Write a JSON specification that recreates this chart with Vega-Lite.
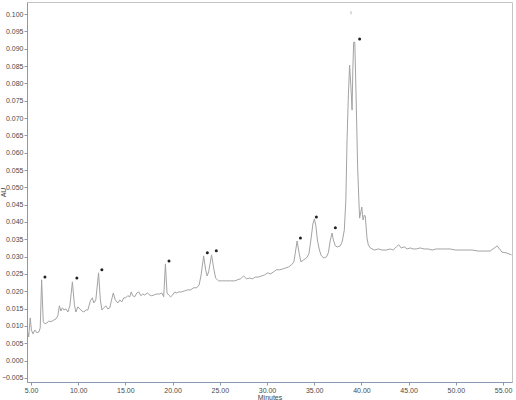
{
  "$schema": "https://vega.github.io/schema/vega-lite/v6.json",
  "width": 485,
  "height": 380,
  "autosize": "none",
  "padding": {"left": 27, "top": 2, "right": 4, "bottom": 18},
  "background": "white",
  "config": {
    "view": {"stroke": "#c4c4c4", "strokeWidth": 1},
    "axis": {
      "labelFont": "Liberation Sans",
      "titleFont": "Liberation Sans",
      "labelFontSize": 7,
      "titleFontSize": 7,
      "titleFontWeight": "normal",
      "labelColor": "#4a4a4a",
      "titleColor": "#444",
      "domainColor": "#8a9aae",
      "tickColor": "#8a9aae",
      "labelOverlap": false,
      "grid": false
    },
    "axisX": {"labelOverlap": false},
    "axisY": {"labelOverlap": false}
  },
  "datasets": {
    "trace": [
      {"t": 4.65, "au": 0.0084}, {"t": 4.76, "au": 0.0068}, {"t": 4.92, "au": 0.0123}, {"t": 5.05, "au": 0.0088},
      {"t": 5.21, "au": 0.0077}, {"t": 5.42, "au": 0.0088}, {"t": 5.63, "au": 0.0080}, {"t": 5.85, "au": 0.0083},
      {"t": 5.98, "au": 0.0094}, {"t": 6.13, "au": 0.0233}, {"t": 6.30, "au": 0.0112}, {"t": 6.48, "au": 0.0106},
      {"t": 6.69, "au": 0.0109}, {"t": 6.90, "au": 0.0114}, {"t": 7.11, "au": 0.0112}, {"t": 7.43, "au": 0.0117},
      {"t": 7.64, "au": 0.0120}, {"t": 7.85, "au": 0.0129}, {"t": 8.01, "au": 0.0158}, {"t": 8.17, "au": 0.0143},
      {"t": 8.33, "au": 0.0152}, {"t": 8.49, "au": 0.0146}, {"t": 8.70, "au": 0.0149}, {"t": 8.91, "au": 0.0140},
      {"t": 9.12, "au": 0.0158}, {"t": 9.39, "au": 0.0227}, {"t": 9.60, "au": 0.0161}, {"t": 9.76, "au": 0.0140},
      {"t": 9.97, "au": 0.0155}, {"t": 10.18, "au": 0.0149}, {"t": 10.39, "au": 0.0143}, {"t": 10.60, "au": 0.0140},
      {"t": 10.81, "au": 0.0146}, {"t": 11.03, "au": 0.0146}, {"t": 11.29, "au": 0.0172}, {"t": 11.50, "au": 0.0181},
      {"t": 11.66, "au": 0.0166}, {"t": 11.87, "au": 0.0175}, {"t": 12.16, "au": 0.0253}, {"t": 12.35, "au": 0.0175},
      {"t": 12.51, "au": 0.0146}, {"t": 12.72, "au": 0.0152}, {"t": 12.93, "au": 0.0158}, {"t": 13.14, "au": 0.0149},
      {"t": 13.35, "au": 0.0152}, {"t": 13.51, "au": 0.0172}, {"t": 13.72, "au": 0.0195}, {"t": 13.93, "au": 0.0175},
      {"t": 14.20, "au": 0.0166}, {"t": 14.41, "au": 0.0175}, {"t": 14.62, "au": 0.0169}, {"t": 14.83, "au": 0.0181},
      {"t": 15.04, "au": 0.0181}, {"t": 15.25, "au": 0.0187}, {"t": 15.47, "au": 0.0184}, {"t": 15.62, "au": 0.0198},
      {"t": 15.78, "au": 0.0187}, {"t": 15.99, "au": 0.0184}, {"t": 16.21, "au": 0.0195}, {"t": 16.42, "au": 0.0198},
      {"t": 16.63, "au": 0.0187}, {"t": 16.84, "au": 0.0192}, {"t": 17.05, "au": 0.0189}, {"t": 17.32, "au": 0.0195},
      {"t": 17.58, "au": 0.0189}, {"t": 17.79, "au": 0.0187}, {"t": 18.00, "au": 0.0189}, {"t": 18.32, "au": 0.0192},
      {"t": 18.64, "au": 0.0192}, {"t": 18.85, "au": 0.0195}, {"t": 19.06, "au": 0.0184}, {"t": 19.24, "au": 0.0279},
      {"t": 19.41, "au": 0.0195}, {"t": 19.59, "au": 0.0189}, {"t": 19.80, "au": 0.0184}, {"t": 20.01, "au": 0.0189},
      {"t": 20.22, "au": 0.0198}, {"t": 20.43, "au": 0.0195}, {"t": 20.65, "au": 0.0198}, {"t": 20.96, "au": 0.0198},
      {"t": 21.28, "au": 0.0201}, {"t": 21.60, "au": 0.0204}, {"t": 21.91, "au": 0.0204}, {"t": 22.23, "au": 0.0210},
      {"t": 22.55, "au": 0.0210}, {"t": 22.81, "au": 0.0218}, {"t": 23.02, "au": 0.0247}, {"t": 23.29, "au": 0.0302},
      {"t": 23.50, "au": 0.0262}, {"t": 23.66, "au": 0.0244}, {"t": 23.82, "au": 0.0256}, {"t": 24.13, "au": 0.0305},
      {"t": 24.35, "au": 0.0267}, {"t": 24.56, "au": 0.0238}, {"t": 24.87, "au": 0.0230}, {"t": 25.30, "au": 0.0230},
      {"t": 25.72, "au": 0.0230}, {"t": 26.14, "au": 0.0230}, {"t": 26.57, "au": 0.0230}, {"t": 26.88, "au": 0.0233},
      {"t": 27.20, "au": 0.0236}, {"t": 27.52, "au": 0.0244}, {"t": 27.83, "au": 0.0236}, {"t": 28.15, "au": 0.0238},
      {"t": 28.47, "au": 0.0236}, {"t": 28.79, "au": 0.0241}, {"t": 29.10, "au": 0.0241}, {"t": 29.42, "au": 0.0244},
      {"t": 29.74, "au": 0.0247}, {"t": 30.05, "au": 0.0253}, {"t": 30.37, "au": 0.0250}, {"t": 30.69, "au": 0.0256},
      {"t": 31.00, "au": 0.0262}, {"t": 31.32, "au": 0.0262}, {"t": 31.64, "au": 0.0264}, {"t": 31.96, "au": 0.0267},
      {"t": 32.27, "au": 0.0270}, {"t": 32.59, "au": 0.0276}, {"t": 32.85, "au": 0.0285}, {"t": 33.01, "au": 0.0313},
      {"t": 33.19, "au": 0.0345}, {"t": 33.38, "au": 0.0313}, {"t": 33.59, "au": 0.0285}, {"t": 33.86, "au": 0.0290},
      {"t": 34.18, "au": 0.0296}, {"t": 34.44, "au": 0.0308}, {"t": 34.65, "au": 0.0348}, {"t": 34.86, "au": 0.0394},
      {"t": 35.02, "au": 0.0409}, {"t": 35.18, "au": 0.0388}, {"t": 35.34, "au": 0.0348}, {"t": 35.55, "au": 0.0319},
      {"t": 35.76, "au": 0.0302}, {"t": 36.03, "au": 0.0296}, {"t": 36.29, "au": 0.0299}, {"t": 36.50, "au": 0.0311},
      {"t": 36.71, "au": 0.0348}, {"t": 36.89, "au": 0.0368}, {"t": 37.03, "au": 0.0348}, {"t": 37.24, "au": 0.0331},
      {"t": 37.45, "au": 0.0328}, {"t": 37.77, "au": 0.0331}, {"t": 37.98, "au": 0.0345}, {"t": 38.19, "au": 0.0377},
      {"t": 38.35, "au": 0.0463}, {"t": 38.48, "au": 0.0637}, {"t": 38.62, "au": 0.0766}, {"t": 38.75, "au": 0.0853},
      {"t": 38.88, "au": 0.0795}, {"t": 39.01, "au": 0.0723}, {"t": 39.09, "au": 0.0838}, {"t": 39.18, "au": 0.0919},
      {"t": 39.30, "au": 0.0919}, {"t": 39.41, "au": 0.0795}, {"t": 39.60, "au": 0.0559}, {"t": 39.73, "au": 0.0463},
      {"t": 39.81, "au": 0.0411}, {"t": 39.94, "au": 0.0429}, {"t": 40.04, "au": 0.0443}, {"t": 40.17, "au": 0.0406},
      {"t": 40.31, "au": 0.0420}, {"t": 40.41, "au": 0.0417}, {"t": 40.59, "au": 0.0354}, {"t": 40.73, "au": 0.0334},
      {"t": 40.94, "au": 0.0325}, {"t": 41.36, "au": 0.0319}, {"t": 41.79, "au": 0.0322}, {"t": 42.21, "au": 0.0319},
      {"t": 42.63, "au": 0.0319}, {"t": 43.06, "au": 0.0322}, {"t": 43.37, "au": 0.0319}, {"t": 43.69, "au": 0.0328},
      {"t": 43.95, "au": 0.0334}, {"t": 44.22, "au": 0.0325}, {"t": 44.54, "au": 0.0328}, {"t": 44.85, "au": 0.0322},
      {"t": 45.17, "au": 0.0325}, {"t": 45.49, "au": 0.0322}, {"t": 45.80, "au": 0.0322}, {"t": 46.23, "au": 0.0325},
      {"t": 46.65, "au": 0.0322}, {"t": 47.07, "au": 0.0322}, {"t": 47.50, "au": 0.0319}, {"t": 47.92, "au": 0.0322},
      {"t": 48.34, "au": 0.0322}, {"t": 48.87, "au": 0.0322}, {"t": 49.40, "au": 0.0322}, {"t": 49.93, "au": 0.0319},
      {"t": 50.46, "au": 0.0319}, {"t": 51.09, "au": 0.0319}, {"t": 51.72, "au": 0.0319}, {"t": 52.36, "au": 0.0316},
      {"t": 53.10, "au": 0.0316}, {"t": 53.63, "au": 0.0316}, {"t": 53.94, "au": 0.0322}, {"t": 54.37, "au": 0.0331},
      {"t": 54.63, "au": 0.0322}, {"t": 54.89, "au": 0.0313}, {"t": 55.32, "au": 0.0311}, {"t": 55.90, "au": 0.0305}
    ],
    "marks": [
      {"t": 6.48, "au": 0.0241}, {"t": 9.86, "au": 0.0238}, {"t": 12.51, "au": 0.0262}, {"t": 19.62, "au": 0.0287},
      {"t": 23.68, "au": 0.0311}, {"t": 24.63, "au": 0.0317}, {"t": 33.54, "au": 0.0354}, {"t": 35.23, "au": 0.0414},
      {"t": 37.24, "au": 0.0383}, {"t": 39.81, "au": 0.0928}
    ]
  },
  "layer": [
    {
      "data": {"name": "trace"},
      "mark": {"type": "line", "color": "#a3a3a3", "strokeWidth": 1, "clip": true},
      "encoding": {
        "x": {
          "field": "t", "type": "quantitative", "title": "Minutes",
          "scale": {"domain": [4.58, 55.95], "nice": false, "zero": false},
          "axis": {
            "values": [5,10,15,20,25,30,35,40,45,50,55],
            "format": ".2f",
            "tickSize": 3,
            "labelPadding": 1,
            "titlePadding": 0,
            "labelFlush": false
          }
        },
        "y": {
          "field": "au", "type": "quantitative", "title": "AU",
          "scale": {"domain": [-0.0062, 0.1035], "nice": false, "zero": false},
          "axis": {
            "tickCount": 22,
            "format": ".3f",
            "tickSize": 3,
            "labelPadding": 1,
            "titlePadding": 2,
            "titleX": -21,
            "labelFlush": false
          }
        }
      }
    },
    {
      "data": {"name": "marks"},
      "mark": {"type": "point", "shape": "circle", "filled": true, "size": 9, "color": "#222", "opacity": 1},
      "encoding": {
        "x": {"field": "t", "type": "quantitative"},
        "y": {"field": "au", "type": "quantitative"}
      }
    },
    {
      "data": {"values": [{"t": 38.9, "au": 0.1004}]},
      "mark": {"type": "tick", "orient": "vertical", "size": 3, "thickness": 1, "color": "#999"},
      "encoding": {
        "x": {"field": "t", "type": "quantitative"},
        "y": {"field": "au", "type": "quantitative"}
      }
    }
  ]
}
